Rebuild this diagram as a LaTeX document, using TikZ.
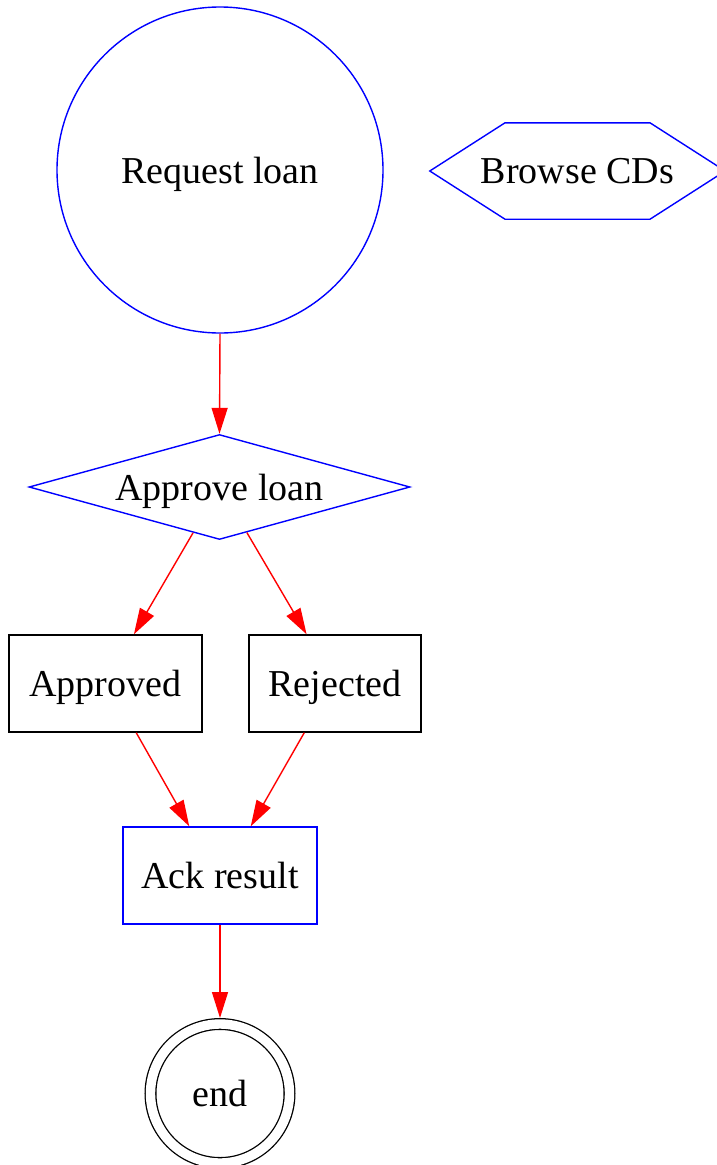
\documentclass[tikz,border=0pt]{standalone}
\usepackage{fontspec}
\setmainfont{Liberation Serif}
\usetikzlibrary{shapes.geometric,arrows.meta}
\begin{document}
\begin{tikzpicture}[x=1pt,y=-1pt,
  every node/.style={inner sep=0pt,text depth=0pt,font=\fontsize{38}{44}\selectfont},
  bl/.style={draw=blue,line width=1.4pt},
  bk/.style={draw=black,line width=1.4pt},
  box/.style={rectangle,minimum height=97pt},
  conn/.style={draw=red,line width=1.4pt,-{Triangle[length=26pt,width=16pt]}}
]
\useasboundingbox[fill=white] (0,0) rectangle (716,1165);
\node[circle,bl,minimum size=326pt] (req) at (220,170) {Request loan};
\node[minimum width=295pt,minimum height=96pt] (br) at (577.5,171) {Browse CDs};
\draw[bl] ([xshift=-72.5pt]br.north) -- ([xshift=72.5pt]br.north) -- (br.east)
  -- ([xshift=72.5pt]br.south) -- ([xshift=-72.5pt]br.south) -- (br.west) -- cycle;
\node[diamond,aspect=3.6,bl,minimum width=381pt,minimum height=105pt] (dia) at (219.5,487) {Approve loan};
\node[box,bk,minimum width=193pt] (ap) at (105.5,683.5) {Approved};
\node[box,bk,minimum width=172pt] (rj) at (335,683.5) {Rejected};
\node[box,bl,minimum width=194pt] (ack) at (220,875.5) {Ack result};
\node[circle,draw=black,line width=1.3pt,double,double distance=9.4pt,minimum size=139pt,outer sep=6pt] (end) at (220,1093.5) {end};
\draw[conn] (req.south) -- (dia.north);
\draw[conn] (dia.-120) -- (ap.60);
\draw[conn] (dia.-59) -- (rj.120);
\draw[conn] (ap.-58) -- (ack.122);
\draw[conn] (rj.-122) -- (ack.58);
\draw[conn] (ack.south) -- (end.north);
\end{tikzpicture}
\end{document}
